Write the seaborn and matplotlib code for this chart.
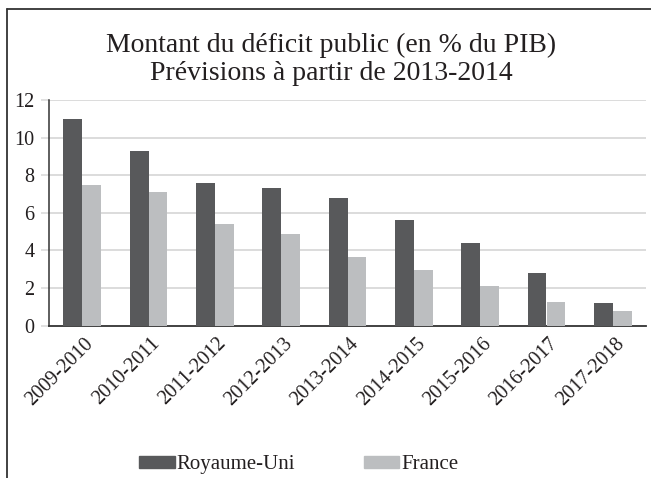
import matplotlib
matplotlib.use("Agg")
import matplotlib.pyplot as plt
import numpy as np
import pandas as pd
import seaborn as sb
from matplotlib.lines import Line2D
from matplotlib.transforms import ScaledTranslation

# data
periods = ["2009-2010", "2010-2011", "2011-2012", "2012-2013", "2013-2014",
           "2014-2015", "2015-2016", "2016-2017", "2017-2018"]
royaume_uni = [11.0, 9.3, 7.6, 7.3, 6.8, 5.6, 4.4, 2.8, 1.2]
france = [7.5, 7.1, 5.4, 4.9, 3.65, 2.95, 2.1, 1.25, 0.8]
series_names = ["Royaume-Uni", "France"]
y_ticks = [0, 2, 4, 6, 8, 10, 12]

title = "Montant du déficit public (en % du PIB)\nPrévisions à partir de 2013-2014"

dark = "#58595b"
light = "#bcbec0"
text_col = "#231f20"
grid_col = "#d9d9d9"

df = pd.DataFrame({
    "period": periods * 2,
    "value": royaume_uni + france,
    "country": [series_names[0]] * len(periods) + [series_names[1]] * len(periods),
})

sb.set_style("white")
plt.rcParams["font.family"] = ["Liberation Serif", "DejaVu Serif"]

fig = plt.figure(figsize=(6.51, 4.78), dpi=100)
W, H = 651, 478
ax = fig.add_axes([49 / W, 1 - 325.7 / H, (646 - 49) / W, (325.7 - 100) / H])

sb.barplot(data=df, x="period", y="value", hue="country", palette=[dark, light],
           saturation=1, width=0.57, gap=0, linewidth=0, ax=ax, zorder=3)
ax.get_legend().remove()

ax.set_xlim(-0.5, len(periods) - 0.5)
ax.set_ylim(0, 12)
ax.set_yticks(y_ticks)
ax.set_xlabel("")
ax.set_ylabel("")

# gridlines
for yv in y_ticks[1:]:
    ax.axhline(yv, color=grid_col, lw=1.3, zorder=1)

ax.tick_params(axis="y", length=5.8, width=1.1, color=grid_col, pad=4.5,
               labelsize=14.5, labelcolor=text_col, left=True)
ax.tick_params(axis="x", length=0, pad=6, labelsize=14.5, labelcolor=text_col)
shift = ScaledTranslation(2 / 100, 0, fig.dpi_scale_trans)
for lab in ax.get_xticklabels():
    lab.set_rotation(45)
    lab.set_ha("right")
    lab.set_va("top")
    lab.set_rotation_mode("anchor")
    lab.set_transform(lab.get_transform() + shift)

for s in ["top", "right"]:
    ax.spines[s].set_visible(False)
ax.spines["left"].set_color("#333333")
ax.spines["left"].set_linewidth(1.1)
ax.spines["bottom"].set_color("#333333")
ax.spines["bottom"].set_linewidth(1.3)

# title
fig.text(331 / W, 1 - 59 / H, title, ha="center", va="center",
         fontsize=20, color=text_col, linespacing=1.15)

# legend
handles = [plt.Rectangle((0, 0), 1, 1, color=dark), plt.Rectangle((0, 0), 1, 1, color=light)]
fig.legend(handles, series_names, loc="center", bbox_to_anchor=(299 / W, 1 - 464.5 / H),
           ncol=2, frameon=False, fontsize=15, handlelength=1.7, handleheight=0.5,
           handletextpad=0.1, columnspacing=3.3, labelcolor=text_col)

# outer frame (top and left edges visible)
fig.add_artist(Line2D([7 / W, 1.0], [1 - 9 / H, 1 - 9 / H], color="#333333", lw=1.3,
                      transform=fig.transFigure))
fig.add_artist(Line2D([7 / W, 7 / W], [0, 1 - 9 / H], color="#333333", lw=1.3,
                      transform=fig.transFigure))

fig.savefig("out.png", dpi=100)
